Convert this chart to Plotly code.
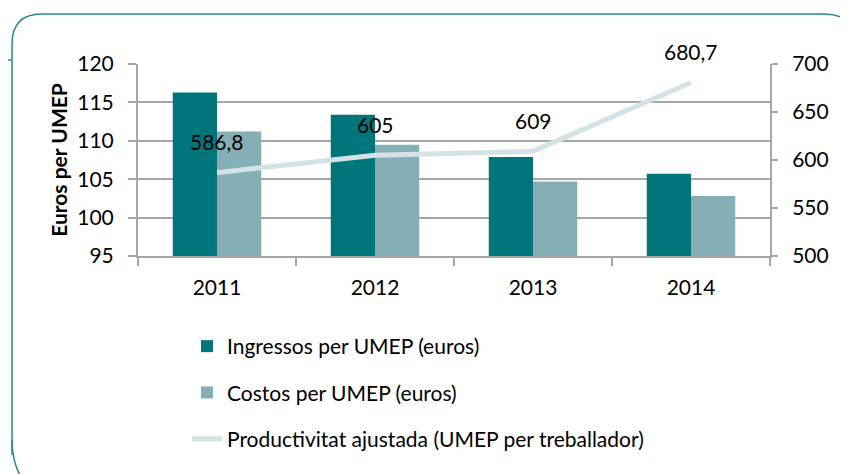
import plotly.graph_objects as go

years = ["2011", "2012", "2013", "2014"]
ingressos = [116.3, 113.4, 107.9, 105.7]
costos = [111.2, 109.5, 104.7, 102.8]
productivitat = [586.8, 605, 609, 680.7]

name_ing = "Ingressos per UMEP (euros)"
name_cost = "Costos per UMEP (euros)"
name_prod = "Productivitat ajustada (UMEP per treballador)"

c_dark = "#00767A"
c_light = "#85AFB5"
c_line = "#D3E2E6"
c_grid = "#A6A6A6"
c_frame = "#2A8A8F"
FONT = "Lato"

OFF = 8  # page body margin
W, H = 848 - OFF, 474 - OFF
L, R, T, B = 138, 770, 64, 256  # plot area in page pixels


def px(x):
    return (x - L) / (R - L)


def py(y):
    return (B - y) / (B - T)


fig = go.Figure()
fig.add_trace(go.Bar(x=years, y=ingressos, name=name_ing, legendgroup="a",
                     marker=dict(color=c_dark, line=dict(width=0))))
fig.add_trace(go.Bar(x=years, y=costos, name=name_cost, legendgroup="b",
                     marker=dict(color=c_light, line=dict(width=0))))
fig.add_trace(go.Scatter(x=years, y=productivitat, name=name_prod, yaxis="y2", mode="lines",
                         legendgroup="c", line=dict(color=c_line, width=5)))

# data labels: x given as category index so it maps onto the category axis
for i, v in enumerate(productivitat):
    fig.add_annotation(x=i, y=v, xref="x", yref="y2", text=f"{v:g}".replace(".", ","),
                       showarrow=False, yshift=31,
                       font=dict(family=FONT, size=21, color="#000000"))


def P(x, y):
    return f"{px(x):.5f},{py(y):.5f}"


frame = (f"M{P(12, 455)} L{P(12, 44)} Q{P(12, 14)} {P(42, 14)} L{P(825, 14)} "
         f"Q{P(850, 14)} {P(862, 40)}")
frame_bl = f"M{P(12, 440)} Q{P(12, 470)} {P(30, 490)}"
fig.add_shape(type="path", path=frame, xref="paper", yref="paper",
              line=dict(color=c_frame, width=1.5), layer="below")
fig.add_shape(type="path", path=frame_bl, xref="paper", yref="paper",
              line=dict(color=c_frame, width=1.5), layer="below")
fig.add_shape(type="line", x0=px(0), x1=px(12), y0=py(60), y1=py(60), xref="paper", yref="paper",
              line=dict(color=c_frame, width=1.5), layer="below")

fig.update_layout(
    width=W, height=H,
    margin=dict(l=L - OFF, r=W - (R - OFF), t=T - OFF, b=H - (B - OFF), pad=0, autoexpand=False),
    paper_bgcolor="white", plot_bgcolor="white",
    font=dict(family=FONT, size=21, color="#000000"),
    barmode="group", bargap=0.44, bargroupgap=0,
    xaxis=dict(type="category", range=[-0.5, 3.5], showgrid=False, showline=True,
               linecolor=c_grid, linewidth=2,
               ticks="outside", tickson="boundaries", ticklen=8, tickcolor=c_grid, tickwidth=2,
               tickangle=0, tickfont=dict(size=21), ticklabelstandoff=12, automargin=False),
    yaxis=dict(range=[95, 120], dtick=5, showgrid=True, gridcolor=c_grid, gridwidth=2,
               showline=True, linecolor=c_grid, linewidth=2, ticks="outside", ticklen=8,
               tickcolor=c_grid, tickwidth=2, zeroline=False, automargin=False,
               ticklabelstandoff=10,
               title=dict(text="<b>Euros per UMEP</b>", font=dict(size=21), standoff=4),
               tickfont=dict(size=21)),
    yaxis2=dict(range=[500, 700], dtick=50, overlaying="y", side="right", showgrid=False,
                showline=True, linecolor=c_grid, linewidth=2, ticks="outside", ticklen=6,
                tickcolor=c_grid, tickwidth=2, zeroline=False, automargin=False,
                ticklabelstandoff=10, tickfont=dict(size=21)),
    legend=dict(orientation="v", x=px(187), xanchor="left", y=py(326), yanchor="top",
                tracegroupgap=16, font=dict(size=21), bgcolor="rgba(0,0,0,0)", itemwidth=30),
    showlegend=True,
)

fig.write_html("out.html")
